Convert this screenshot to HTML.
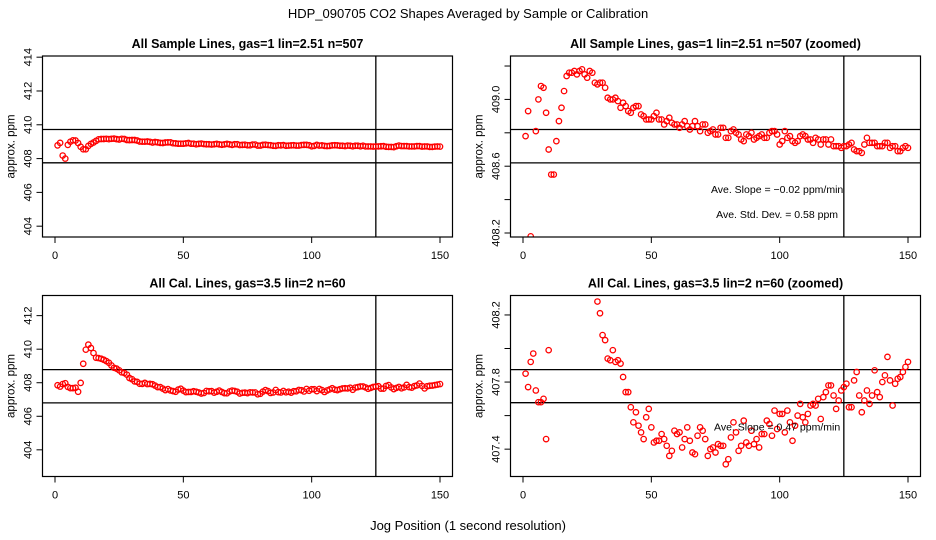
<!DOCTYPE html>
<html><head><meta charset="utf-8"><style>
html,body{margin:0;padding:0;background:#fff;}
svg{display:block;font-family:"Liberation Sans",Arial,sans-serif;}
</style></head><body>
<svg id="chart" width="936" height="540" viewBox="0 0 936 540">
<text x="468" y="18" text-anchor="middle" font-size="13">HDP_090705  CO2 Shapes Averaged by Sample or Calibration</text>
<text x="468" y="530" text-anchor="middle" font-size="13">Jog Position (1 second resolution)</text>
</svg>
<script>
const sampleValues = [408.78,408.93,408.18,408.0,408.81,409.0,409.08,409.07,408.92,408.70,408.55,408.55,408.75,408.87,408.95,409.05,409.14,409.16,409.16,409.17,409.15,409.17,409.18,409.15,409.13,409.17,409.16,409.10,409.09,409.10,409.10,409.07,409.01,409.0,409.0,409.01,408.99,408.95,408.98,408.96,408.93,408.92,408.95,408.96,408.96,408.91,408.90,408.88,408.88,408.88,408.90,408.92,408.88,408.88,408.85,408.87,408.89,408.86,408.85,408.85,408.83,408.85,408.87,408.84,408.82,408.84,408.87,408.84,408.81,408.85,408.85,408.80,408.81,408.82,408.79,408.79,408.83,408.83,408.77,408.77,408.81,408.82,408.80,408.79,408.76,408.75,408.79,408.78,408.80,408.76,408.77,408.78,408.79,408.77,408.77,408.80,408.81,408.81,408.79,408.73,408.75,408.81,408.77,408.78,408.75,408.74,408.75,408.78,408.79,408.78,408.76,408.76,408.74,408.77,408.76,408.73,408.76,408.76,408.73,408.76,408.72,408.72,408.72,408.71,408.72,408.72,408.73,408.74,408.70,408.69,408.69,408.68,408.73,408.77,408.74,408.74,408.74,408.72,408.72,408.72,408.74,408.74,408.71,408.72,408.72,408.69,408.69,408.71,408.72,408.71];
const calValues = [407.85,407.77,407.92,407.97,407.75,407.68,407.68,407.70,407.46,407.99,409.13,409.97,410.27,410.07,409.77,409.49,409.47,409.43,409.37,409.29,409.19,409.03,408.89,408.84,408.74,408.62,408.58,408.48,408.28,408.21,408.08,408.05,407.94,407.93,407.99,407.92,407.93,407.91,407.83,407.74,407.74,407.65,407.56,407.62,407.54,407.50,407.46,407.59,407.64,407.53,407.44,407.45,407.45,407.49,407.46,407.42,407.36,407.39,407.51,407.49,407.50,407.41,407.46,407.53,407.45,407.38,407.37,407.48,407.53,407.51,407.46,407.36,407.40,407.41,407.38,407.43,407.42,407.42,407.31,407.34,407.47,407.56,407.50,407.39,407.42,407.57,407.44,407.42,407.51,407.43,407.46,407.41,407.49,407.49,407.57,407.55,407.48,407.63,407.52,407.61,407.61,407.50,407.63,407.56,407.45,407.54,407.60,407.67,407.59,407.56,407.61,407.66,407.67,407.66,407.70,407.58,407.71,407.74,407.78,407.78,407.72,407.64,407.69,407.75,407.77,407.79,407.65,407.65,407.81,407.86,407.72,407.62,407.69,407.75,407.67,407.72,407.87,407.74,407.71,407.80,407.84,407.95,407.81,407.66,407.79,407.82,407.83,407.86,407.89,407.92];
const xTicks = [0,50,100,150];
const p1Ticks = [404,406,408,410,412,414];
const p1Labels = ["404","406","408","410","412","414"];
const p2Ticks = [408.2,408.4,408.6,408.8,409.0,409.2];
const p2Labels = ["408.2","","408.6","","409.0",""];
const p3Ticks = [404,406,408,410,412];
const p3Labels = ["404","406","408","410","412"];
const p4Ticks = [407.4,407.6,407.8,408.0,408.2];
const p4Labels = ["407.4","","407.8","","408.2"];
const p1HLines = [409.72,407.75];
const p2HLines = [408.82,408.62];
const p3HLines = [408.78,406.8];
const p4HLines = [407.874,407.677];
const vLineX = 125;

const NS="http://www.w3.org/2000/svg";
const svg=document.getElementById('chart');
function mk(tag,attrs,parent){const e=document.createElementNS(NS,tag);for(const k in attrs)e.setAttribute(k,attrs[k]);(parent||svg).appendChild(e);return e;}

function panel(cfg){
  const g=mk('g',{});
  
  
  const L=cfg.left,R=cfg.left+410,T=cfg.top,B=cfg.top+181;
  const x0=L+12.5, xs=(R-12.5-x0)/150;
  const sx=v=>x0+v*xs;
  const sy=v=>B-(v-cfg.ymin)/(cfg.ymax-cfg.ymin)*(B-T);
  const t=mk('text',{x:(L+R)/2,y:T-8,'text-anchor':'middle','font-size':'12.5','font-weight':'bold'},g);
  t.textContent=cfg.title;
  
  
  const clip=mk('clipPath',{id:'c'+cfg.id},g);
  mk('rect',{x:L,y:T,width:R-L,height:B-T},clip);
  // x axis
  xTicks.forEach(v=>{
    const l=mk('line',{x1:sx(v),x2:sx(v),y1:B,y2:B+6,stroke:'#000','stroke-width':1},g);
    
    
    const tx=mk('text',{x:sx(v),y:B+22,'text-anchor':'middle','font-size':'11'},g);
    tx.textContent=String(v);
    
    
  });
  cfg.yTicks.forEach((v,i)=>{
    const y=sy(v);
    const l=mk('line',{x1:L-6,x2:L,y1:y,y2:y,stroke:'#000','stroke-width':1},g);
    
    
    if(cfg.yLabels[i]){
      const tx=mk('text',{x:0,y:0,'text-anchor':'middle','font-size':'11',transform:`translate(${L-11},${y}) rotate(-90)`},g);
      tx.textContent=cfg.yLabels[i];
      
      
    }
  });
  const yt=mk('text',{x:0,y:0,'text-anchor':'middle','font-size':'11.5',transform:`translate(${L-28},${(T+B)/2}) rotate(-90)`},g);
  yt.textContent='approx. ppm';
  
  
  const pts=mk('g',{'clip-path':`url(#c${cfg.id})`},g);
  cfg.hlines.forEach(v=>{
    const l=mk('line',{x1:L,x2:R,y1:sy(v),y2:sy(v),stroke:'#000','stroke-width':1.3},pts);
    
    
  });
  const vl=mk('line',{x1:sx(vLineX),x2:sx(vLineX),y1:T,y2:B,stroke:'#000','stroke-width':1.3},pts);
  
  
  cfg.data.forEach((v,i)=>{
    const c=mk('circle',{cx:sx(i+1),cy:sy(v),r:2.7,fill:'none',stroke:'#f00','stroke-width':1.3},pts);
    
    
  });
  (cfg.notes||[]).forEach(n=>{
    const tx=mk('text',{x:sx(n[0]),y:sy(n[1]),'text-anchor':'middle','font-size':'10.5'},g);
    tx.textContent=n[2];
    
    
  });
  const box=mk('rect',{x:L,y:T,width:R-L,height:B-T,fill:'none',stroke:'#000','stroke-width':1.2},g);
  
  
}
panel({id:1,name:'panel-sample-lines',left:42.5,top:56,ymin:403.36,ymax:414.07,title:'All Sample Lines, gas=1 lin=2.51 n=507',yTicks:p1Ticks,yLabels:p1Labels,hlines:p1HLines,data:sampleValues});
panel({id:2,name:'panel-sample-lines-zoomed',left:510.5,top:56,ymin:408.176,ymax:409.26,title:'All Sample Lines, gas=1 lin=2.51 n=507 (zoomed)',yTicks:p2Ticks,yLabels:p2Labels,hlines:p2HLines,data:sampleValues,
  notes:[[99,408.44,'Ave. Slope =  \u22120.02  ppm/min'],[99,408.29,'Ave. Std. Dev. =  0.58  ppm']]});
panel({id:3,name:'panel-cal-lines',left:42.5,top:295.5,ymin:402.41,ymax:413.2,title:'All Cal. Lines, gas=3.5 lin=2 n=60',yTicks:p3Ticks,yLabels:p3Labels,hlines:p3HLines,data:calValues});
panel({id:4,name:'panel-cal-lines-zoomed',left:510.5,top:295.5,ymin:407.237,ymax:408.316,title:'All Cal. Lines, gas=3.5 lin=2 n=60 (zoomed)',yTicks:p4Ticks,yLabels:p4Labels,hlines:p4HLines,data:calValues,
  notes:[[99,407.51,'Ave. Slope = 0.47  ppm/min']]});
</script>
</body></html>
